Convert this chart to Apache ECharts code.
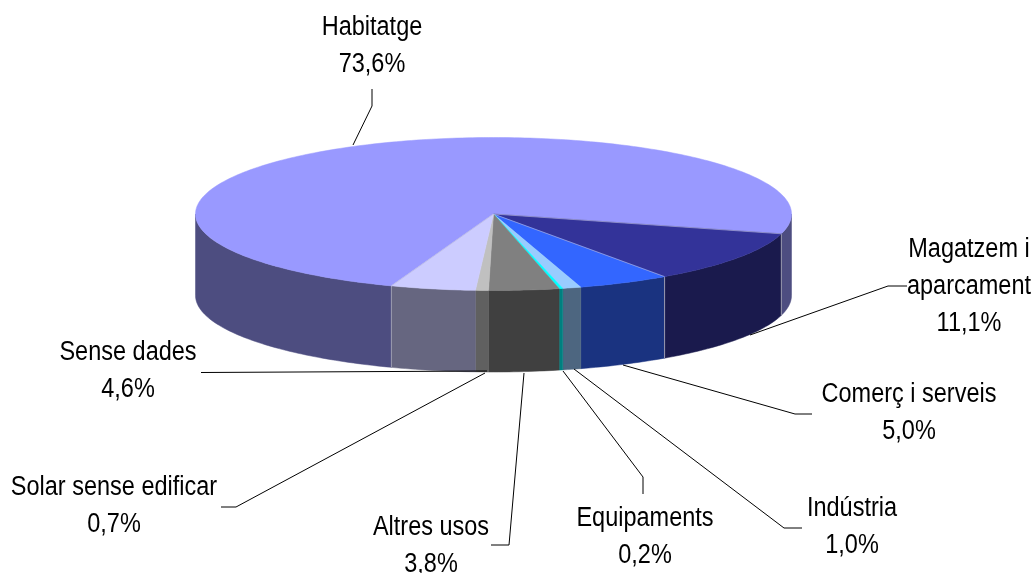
<!DOCTYPE html>
<html>
<head>
<meta charset="utf-8">
<style>
  html, body { margin: 0; padding: 0; background: #fff; }
  #chart { width: 1035px; height: 573px; }
</style>
<script src="https://cdn.jsdelivr.net/npm/echarts@6/dist/echarts.min.js"></script>
</head>
<body>
<div id="chart"></div>
<script>
// valors en sentit horari, comencant per Habitatge
const names = ['Habitatge', 'Magatzem i\naparcament', 'Comerç i serveis', 'Indústria', 'Equipaments', 'Altres usos', 'Solar sense edificar', 'Sense dades'];
const values = [73.6, 11.1, 5.0, 1.0, 0.2, 3.8, 0.7, 4.6];

const topColors = ['#9999FF', '#333399', '#3366FF', '#99CCFF', '#00FFFF', '#808080', '#C0C0C0', '#CCCCFF'];
const sideColors = ['#4D4D80', '#1A1A4D', '#1A3380', '#4D6680', '#008080', '#404040', '#606060', '#666680'];

// posicio del text (centre del bloc) i linia guia de cada etiqueta, en pixels
const labelPos = [[372, 46], [969, 287], [909, 413], [852, 527], [645, 537], [431, 546], [114, 506], [128, 371]];
const leaders = [
  [[372, 89], [372, 106], [353, 145]],
  [[907, 286], [888, 286], [750, 335]],
  [[812, 414], [795, 414], [623, 365]],
  [[802, 528], [784, 528], [574, 369]],
  [[643, 494], [643, 477], [563, 371]],
  [[491, 545], [509, 545], [524, 373]],
  [[221, 507], [236, 507], [485, 373]],
  [[201, 372.5], [487, 371]]
];

// geometria del pastis
const cx = 493.5, cy = 214, rx = 298, ry = 76.5, depth = 81.5;
const endAngle = 15; // final de Habitatge (graus, sentit horari des de l'est)

const total = values.reduce((a, b) => a + b, 0);

function sliceRange(i) {
  let start = endAngle - values[0] / total * 360;
  for (let k = 0; k < i; k++) start += values[k] / total * 360;
  return [start, start + values[i] / total * 360];
}

function pt(deg, dy) {
  const t = deg * Math.PI / 180;
  return [cx + rx * Math.cos(t), cy + ry * Math.sin(t) + (dy || 0)];
}

function arc(a, b, dy) {
  const pts = [];
  const n = Math.max(2, Math.ceil(b - a) + 1);
  for (let i = 0; i < n; i++) pts.push(pt(a + (b - a) * i / (n - 1), dy));
  return pts;
}

function renderSide(params, api) {
  const i = params.dataIndex;
  const [a, b] = sliceRange(i);
  const children = [];
  // nomes es veu la paret entre 0 i 180 graus
  [-360, 0, 360].forEach(off => {
    const s = Math.max(a, off), e = Math.min(b, off + 180);
    if (e <= s) return;
    const pts = arc(s, e, 0).concat(arc(s, e, depth).reverse());
    children.push({
      type: 'polygon',
      shape: { points: pts },
      style: { fill: sideColors[i], stroke: sideColors[i], lineWidth: 0.5 }
    });
  });
  if (api.value(0) >= 5) {
    const p = pt(a, 0);
    children.push({
      type: 'line',
      z2: 5,
      shape: { x1: p[0], y1: p[1], x2: p[0], y2: p[1] + depth },
      style: { stroke: '#9C9CB0', lineWidth: 1 }
    });
  }
  return { type: 'group', children: children };
}

function renderTop(params, api) {
  const i = params.dataIndex;
  const [a, b] = sliceRange(i);
  const pts = [[cx, cy]].concat(arc(a, b, 0));
  const children = [{
    type: 'polygon',
    shape: { points: pts },
    style: { fill: topColors[i], stroke: topColors[i], lineWidth: 0.5 }
  }];
  if (api.value(0) >= 5) {
    const p = pt(a, 0);
    children.push({
      type: 'line',
      z2: 5,
      shape: { x1: cx, y1: cy, x2: p[0], y2: p[1] },
      style: { stroke: '#B4B4DC', lineWidth: 0.6 }
    });
  }
  return { type: 'group', children: children };
}

function renderLabel(params, api) {
  const i = params.dataIndex;
  const txt = names[i] + '\n' + api.value(0).toFixed(1).replace('.', ',') + '%';
  return {
    type: 'group',
    children: [
      {
        type: 'polyline',
        shape: { points: leaders[i] },
        style: { stroke: '#000', lineWidth: 1, fill: null }
      },
      {
        type: 'text',
        x: labelPos[i][0],
        y: labelPos[i][1],
        scaleX: 0.87,
        style: {
          text: txt,
          fill: '#000',
          fontFamily: '"Liberation Sans", Arial, sans-serif',
          fontSize: 27,
          lineHeight: 37,
          align: 'center',
          verticalAlign: 'middle'
        }
      }
    ]
  };
}

const myChart = echarts.init(document.getElementById('chart'), null, { renderer: 'canvas' });

const option = {
  backgroundColor: '#fff',
  animation: false,
  series: [
    { type: 'custom', coordinateSystem: 'none', silent: true, z: 1, renderItem: renderSide, data: values },
    { type: 'custom', coordinateSystem: 'none', silent: true, z: 2, renderItem: renderTop, data: values },
    { type: 'custom', coordinateSystem: 'none', silent: true, z: 3, renderItem: renderLabel, data: values }
  ]
};

option && myChart.setOption(option);
</script>
</body>
</html>
